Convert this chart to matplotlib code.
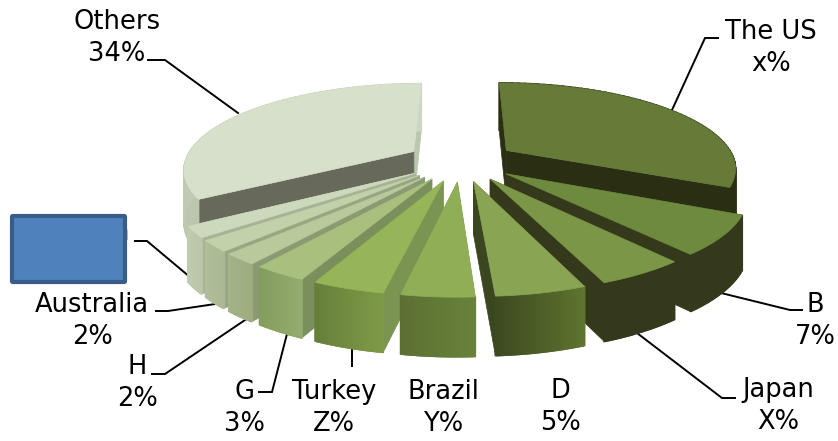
import numpy as np
import matplotlib
matplotlib.use('Agg')
import matplotlib.pyplot as plt
from matplotlib.colors import to_rgb
from matplotlib.patches import Polygon, FancyBboxPatch

# data, clockwise from 12 o'clock
paises = ['The US', 'B', 'Japan', 'D', 'Brazil', 'Turkey', 'G', 'H', 'Australia', 'n', 'Others']
valores = [32, 7, 5, 5, 4, 4, 3, 2, 2, 2, 34]
rotulos = ['x%', '7%', 'X%', '5%', 'Y%', 'Z%', '3%', '2%', '2%', '', '34%']

# colours per slice: top, side wall, back wall, outer wall left/right end
cor_topo = ['#667b38', '#6e8a3f', '#7a9646', '#89a452', '#8fae56', '#96b558', '#a8bf7d', '#b8c99c', '#c2d1aa', '#ccd9bc', '#d7e0cb']
cor_lado = ['#2a2f14', '#33391a', '#33391a', '#3a4620', '#7b9452', '#7b9452', '#7a8f5c', '#8a9a72', '#98a684', '#a6b396', '#676a5b']
cor_fundo = ['#2a2f14', '#33391a', '#33391a', '#3a4620', '#7b9452', '#7b9452', '#7a8f5c', '#8a9a72', '#98a684', '#a6b396', '#bcc6ae']
cor_ext1 = ['#2a2f14', '#33391a', '#33391a', '#5f7530', '#69823a', '#7f9a47', '#94ad6e', '#9dad80', '#aab893', '#b9c5a8', '#bcc6ae']
cor_ext2 = ['#2a2f14', '#33391a', '#33391a', '#3d4a20', '#5c7033', '#66803a', '#849d5e', '#a3b388', '#b0bd9a', '#bfcab0', '#cdd6c0']

# label text centres and leader lines
pos_texto = [(771, 48), (815, 321), (778, 406), (560, 407), (443, 408), (334, 408), (244, 408), (137, 383), (92, 321), None, (117, 38)]
guias = [[(718, 38), (705, 38), (672, 110)],
         [(802, 310), (790, 310), (717, 292)],
         [(735, 398), (722, 398), (637, 333)],
         None,
         None,
         [(352, 366), (352, 345)],
         [(259, 392), (272, 392), (288, 330)],
         [(152, 374), (165, 374), (248, 318)],
         [(156, 311), (168, 311), (222, 303)],
         [(135, 241), (147, 241), (203, 288)],
         [(148, 60), (165, 60), (238, 113)]]

cx, cy = 461, 161
a, b = 229, 84
k = 0.19
altura = 52
expl = 0.24


def projeta(X, Y, z=0):
    s = 1 / (1 + k * Y)
    return cx + a * X * s, cy - b * Y * s + altura * z * s ** 0.5


def mistura(c1, c2, t):
    c1, c2 = np.array(to_rgb(c1)), np.array(to_rgb(c2))
    return tuple(c1 + (c2 - c1) * t)


fig = plt.figure(figsize=(8.38, 4.41), dpi=100)
ax = fig.add_axes([0, 0, 1, 1])
ax.set_xlim(0, 838)
ax.set_ylim(441, 0)
ax.axis('off')

for g in guias:
    if g:
        ax.plot([p[0] for p in g], [p[1] for p in g], color='black', lw=1.4, zorder=1, solid_joinstyle='miter')

fim = np.cumsum(valores) / sum(valores) * 2 * np.pi
ini = fim - np.array(valores) / sum(valores) * 2 * np.pi

# back slices first, front slices last
meio = (ini + fim) / 2
ordem = np.argsort(-np.cos(meio))

z = 2
for i in ordem:
    ox = expl * np.sin(meio[i])
    oy = expl * np.cos(meio[i])
    t = np.linspace(ini[i], fim[i], 60)
    xs = ox + np.sin(t)
    ys = oy + np.cos(t)

    topo = [projeta(ox, oy)] + [projeta(x, y) for x, y in zip(xs, ys)]

    # radial walls, the one further back first
    paredes = [(xs[0], ys[0]), (xs[-1], ys[-1])]
    paredes.sort(key=lambda p: -p[1])
    for n, (x, y) in enumerate(paredes):
        c = cor_fundo[i] if n == 0 else cor_lado[i]
        pts = [projeta(ox, oy), projeta(x, y), projeta(x, y, 1), projeta(ox, oy, 1)]
        ax.add_patch(Polygon(pts, closed=True, fc=c, ec=c, lw=0.5, zorder=z))
        z += 1

    # outer wall, in small pieces for the gradient
    for j in range(len(t) - 1):
        pts = [projeta(xs[j], ys[j]), projeta(xs[j + 1], ys[j + 1]),
               projeta(xs[j + 1], ys[j + 1], 1), projeta(xs[j], ys[j], 1)]
        c = mistura(cor_ext1[i], cor_ext2[i], j / (len(t) - 2))
        ax.add_patch(Polygon(pts, closed=True, fc=c, ec=c, lw=1.2, zorder=z))
    z += 1

    ax.add_patch(Polygon(topo, closed=True, fc=cor_topo[i], ec=cor_topo[i], lw=0.5, zorder=z))
    z += 1

for nome, rot, p in zip(paises, rotulos, pos_texto):
    if p:
        ax.text(p[0], p[1], nome + '\n' + rot, ha='center', va='center', fontsize=18.5,
                family='DejaVu Sans', linespacing=1.3, zorder=500)

# the text box that covers one of the labels
ax.text(129, 233, 'n', ha='right', va='center', fontsize=18.5, zorder=500)
ax.add_patch(FancyBboxPatch((12, 216), 113, 66, boxstyle='round,pad=0,rounding_size=1',
                            fc='#4f81bd', ec='#385d8a', lw=3, zorder=600))

fig.savefig('out.png', dpi=100)
